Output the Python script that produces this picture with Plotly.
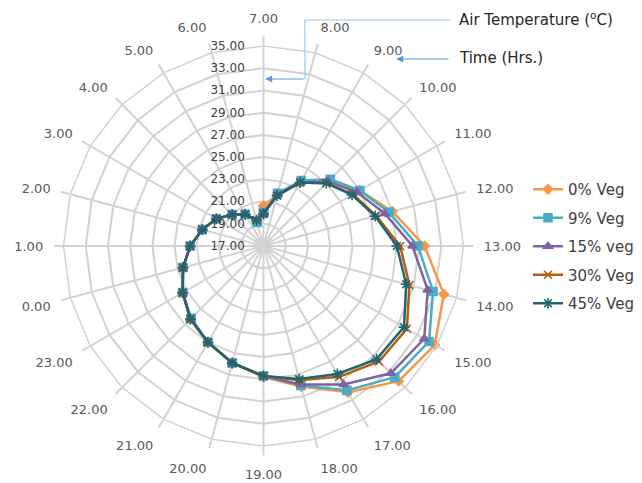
import plotly.graph_objects as go

hours = ["7.00", "8.00", "9.00", "10.00", "11.00", "12.00", "13.00", "14.00", "15.00",
         "16.00", "17.00", "18.00", "19.00", "20.00", "21.00", "22.00", "23.00", "0.00",
         "1.00", "2.00", "3.00", "4.00", "5.00", "6.00"]

veg0 = [20.6, 21.8, 23.6, 25.3, 27.0, 29.0, 31.5, 33.8, 34.8, 34.2, 32.2, 30.1,
        28.8, 27.9, 27.0, 26.3, 25.4, 24.5, 23.6, 22.7, 21.9, 21.0, 20.3, 19.3]
veg9 = [20.0, 21.9, 23.8, 25.5, 27.0, 28.7, 30.9, 32.8, 34.2, 33.7, 32.0, 30.0,
        28.7, 27.9, 27.0, 26.2, 25.4, 24.5, 23.6, 22.7, 21.9, 21.0, 20.3, 19.2]
veg15 = [19.9, 21.8, 23.6, 25.2, 26.7, 28.3, 30.4, 32.3, 33.7, 33.2, 31.4, 29.9,
         28.7, 27.9, 27.0, 26.3, 25.4, 24.5, 23.6, 22.7, 21.9, 21.0, 20.3, 19.4]
veg30 = [19.9, 21.7, 23.6, 25.0, 26.3, 27.5, 29.3, 30.6, 31.9, 31.7, 30.6, 29.5,
         28.7, 27.9, 27.0, 26.3, 25.4, 24.5, 23.6, 22.7, 21.9, 21.0, 20.3, 19.4]
veg45 = [19.9, 21.7, 23.6, 25.0, 26.2, 27.4, 29.0, 30.3, 31.6, 31.4, 30.3, 29.4,
         28.7, 27.9, 27.0, 26.3, 25.4, 24.5, 23.6, 22.7, 21.9, 21.0, 20.3, 19.4]

series_names = ["0% Veg", "9% Veg", "15% veg", "30% Veg", "45% Veg"]
series_values = [veg0, veg9, veg15, veg30, veg45]
colors = ["#F79646", "#4BACC6", "#8064A2", "#B85C12", "#22646F"]
symbols = ["diamond", "square", "triangle-up", "x-thin-open", "asterisk-open"]
msizes = [7, 8, 8, 8, 9]

W, H = 642, 483

def px(x):
    return x / W

def py(y):
    return 1 - y / H

fig = go.Figure()
# overlay subplot only used to draw the short spoke extensions beyond the outer ring
fig.add_trace(go.Scatterpolar(r=[None], theta=[hours[0]], subplot="polar2",
                              showlegend=False, hoverinfo="skip"))
for name, vals, c, s, ms in zip(series_names, series_values, colors, symbols, msizes):
    fig.add_trace(go.Scatterpolar(
        r=vals + vals[:1], theta=hours + hours[:1], mode="lines+markers", name=name,
        line=dict(color=c, width=2.5),
        marker=dict(symbol=s, size=ms, color=c, line=dict(color=c, width=1.6)),
        legendgroup=name,
    ))

cx, cy, R = 263.5, 246, 200
dom = dict(x=[px(cx - R), px(cx + R)], y=[py(cy + R), py(cy - R)])
grid = "#D2D2D2"
fig.update_layout(
    width=W, height=H,
    margin=dict(l=0, r=0, t=0, b=0),
    paper_bgcolor="white",
    showlegend=True,
    legend=dict(x=px(528), y=py(173), xanchor="left", yanchor="top",
                font=dict(family="DejaVu Sans", size=15, color="#404040"),
                tracegroupgap=6, itemwidth=30, bgcolor="rgba(0,0,0,0)"),
    polar=dict(
        domain=dom,
        bgcolor="white",
        gridshape="linear",
        radialaxis=dict(range=[17, 35], dtick=2, tick0=17, tickformat=".2f",
                        angle=90, side="counterclockwise", tickangle=90,
                        showline=False, ticks="outside", ticklen=14,
                        tickcolor="rgba(0,0,0,0)",
                        gridcolor=grid, gridwidth=1.5,
                        tickfont=dict(family="DejaVu Sans", size=12, color="#404040")),
        angularaxis=dict(rotation=90, direction="clockwise", type="category",
                         categoryarray=hours,
                         gridcolor=grid, gridwidth=1.5,
                         showline=True, linecolor=grid, linewidth=1.5,
                         ticks="outside", ticklen=17, tickcolor="rgba(0,0,0,0)",
                         tickfont=dict(family="DejaVu Sans", size=13, color="#595959")),
    ),
    polar2=dict(
        domain=dom,
        bgcolor="rgba(0,0,0,0)",
        gridshape="linear",
        radialaxis=dict(range=[17, 35], visible=False),
        angularaxis=dict(rotation=90, direction="clockwise", type="category",
                         categoryarray=hours, showgrid=False, showline=False,
                         showticklabels=False,
                         ticks="outside", ticklen=9, tickcolor=grid, tickwidth=1.5),
    ),
    shapes=[
        dict(type="line", xref="paper", yref="paper", x0=px(450), y0=py(20), x1=px(305), y1=py(20),
             line=dict(color="#9DC3E6", width=1.2)),
        dict(type="line", xref="paper", yref="paper", x0=px(305), y0=py(20), x1=px(305), y1=py(79),
             line=dict(color="#9DC3E6", width=1.2)),
    ],
    annotations=[
        dict(text="Air Temperature (<sup>o</sup>C)", xref="paper", yref="paper", x=px(457), y=py(19),
             xanchor="left", yanchor="middle", showarrow=False,
             font=dict(family="DejaVu Sans", size=15, color="#262626")),
        dict(text="Time (Hrs.)", xref="paper", yref="paper", x=px(457), y=py(58),
             xanchor="left", yanchor="middle", showarrow=False,
             font=dict(family="DejaVu Sans", size=15, color="#262626")),
        dict(text="", xref="paper", yref="paper", x=px(265), y=py(79), ax=40, ay=0,
             showarrow=True, arrowhead=2, arrowsize=1.2,
             arrowwidth=1.2, arrowcolor="#5B9BD5"),
        dict(text="", xref="paper", yref="paper", x=px(396), y=py(59), ax=54, ay=0,
             showarrow=True, arrowhead=2, arrowsize=1.2,
             arrowwidth=1.2, arrowcolor="#5B9BD5"),
    ],
)

fig.write_html("out.html")
